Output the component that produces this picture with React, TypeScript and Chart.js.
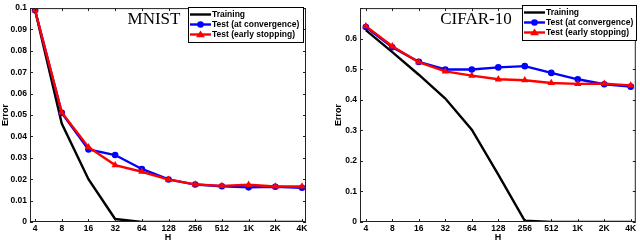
import React, { useEffect, useRef } from "react";
import { Chart, registerables } from "chart.js";

Chart.register(...registerables);

const hLabels = ["4", "8", "16", "32", "64", "128", "256", "512", "1K", "2K", "4K"];
const seriesNames = ["Training", "Test (at convergence)", "Test (early stopping)"];

const mnistTrain = [0.099, 0.046, 0.02, 0.0014, 0, 0, 0, 0, 0, 0, 0];
const mnistConv = [0.099, 0.051, 0.0339, 0.0313, 0.0248, 0.0199, 0.0175, 0.0167, 0.0162, 0.0165, 0.016];
const mnistEarly = [0.099, 0.0512, 0.035, 0.0266, 0.0235, 0.0198, 0.0176, 0.0169, 0.0174, 0.0166, 0.0166];
const mnistYTicks = [0, 0.01, 0.02, 0.03, 0.04, 0.05, 0.06, 0.07, 0.08, 0.09, 0.1];

const cifarTrain = [0.628, 0.556, 0.482, 0.404, 0.302, 0.155, 0.004, 0, 0, 0, 0];
const cifarConv = [0.638, 0.572, 0.524, 0.499, 0.499, 0.506, 0.51, 0.488, 0.467, 0.451, 0.443];
const cifarEarly = [0.641, 0.575, 0.523, 0.493, 0.479, 0.467, 0.464, 0.455, 0.452, 0.453, 0.447];
const cifarYTicks = [0, 0.1, 0.2, 0.3, 0.4, 0.5, 0.6, 0.7];

const COLORS = ["#000000", "#0000ff", "#ff0000"];
const TICK_FONT = { family: "Arial, 'Liberation Sans', sans-serif", size: 8.5, weight: "bold" as const };

function drawMarker(ctx: CanvasRenderingContext2D, kind: string, x: number, y: number, r: number, color: string) {
  ctx.save();
  ctx.fillStyle = color;
  ctx.beginPath();
  if (kind === "circle") {
    ctx.arc(x, y, r, 0, Math.PI * 2);
  } else if (kind === "triangle") {
    const h = r * 1.6;
    ctx.moveTo(x, y - h * 0.6);
    ctx.lineTo(x + r * 1.05, y + h * 0.4);
    ctx.lineTo(x - r * 1.05, y + h * 0.4);
    ctx.closePath();
  }
  ctx.fill();
  ctx.restore();
}

function makeConfig(opts: {
  title: string;
  titleX: number;
  train: number[];
  conv: number[];
  early: number[];
  yTicks: number[];
  yMax: number;
  hideTop: boolean;
  yWidth: number;
  yTitlePad: number;
  xMin: number;
  xMax: number;
  padTop: number;
  padRight: number;
  legendX: number;
  legendY: number;
  legendW: number;
  decimals: number;
}) {
  const series = [opts.train, opts.conv, opts.early];
  const markers = ["none", "circle", "triangle"];
  const radii = [0, 3.3, 4.2];
  const datasets = series.map((s, i) => ({
    label: seriesNames[i],
    data: s.map((v, j) => ({ x: j, y: v })),
    borderColor: COLORS[i],
    backgroundColor: COLORS[i],
    borderWidth: 2.4,
    pointStyle: i === 2 ? "triangle" : "circle",
    pointRadius: radii[i],
    pointBorderWidth: 0,
    pointBackgroundColor: COLORS[i],
    order: 3 - i,
    tension: 0,
  }));

  const boxPlugin = {
    id: "boxTicks",
    afterDatasetsDraw(chart: any) {
      const { ctx, chartArea: a, scales } = chart;
      ctx.save();
      ctx.strokeStyle = "#222";
      ctx.lineWidth = 1;
      ctx.strokeRect(a.left + 0.5, a.top + 0.5, a.right - a.left - 1, a.bottom - a.top - 1);
      const tl = 3;
      ctx.beginPath();
      scales.x.ticks.forEach((t: any) => {
        const x = Math.round(scales.x.getPixelForValue(t.value)) + 0.5;
        ctx.moveTo(x, a.bottom);
        ctx.lineTo(x, a.bottom - tl);
        ctx.moveTo(x, a.top);
        ctx.lineTo(x, a.top + tl);
      });
      scales.y.ticks.forEach((t: any) => {
        const y = Math.round(scales.y.getPixelForValue(t.value)) + 0.5;
        ctx.moveTo(a.left, y);
        ctx.lineTo(a.left + tl, y);
        ctx.moveTo(a.right, y);
        ctx.lineTo(a.right - tl, y);
      });
      ctx.stroke();

      // title inside plot
      ctx.fillStyle = "#000";
      ctx.font = "17px 'Liberation Serif', 'Times New Roman', serif";
      ctx.textAlign = "center";
      ctx.textBaseline = "alphabetic";
      ctx.fillText(opts.title, opts.titleX, a.top + 16);

      // legend
      const lx = opts.legendX, ly = opts.legendY, lw = opts.legendW, lh = 35;
      ctx.fillStyle = "#fff";
      ctx.fillRect(lx, ly, lw, lh);
      ctx.strokeStyle = "#000";
      ctx.lineWidth = 1;
      ctx.strokeRect(lx + 0.5, ly + 0.5, lw, lh);
      ctx.font = "bold 8.5px Arial, 'Liberation Sans', sans-serif";
      ctx.textAlign = "left";
      ctx.textBaseline = "middle";
      seriesNames.forEach((name, i) => {
        const yy = ly + 7.5 + i * 10;
        ctx.strokeStyle = COLORS[i];
        ctx.lineWidth = 2.4;
        ctx.beginPath();
        ctx.moveTo(lx + 2, yy);
        ctx.lineTo(lx + 23, yy);
        ctx.stroke();
        if (markers[i] !== "none") drawMarker(ctx, markers[i], lx + 12.5, yy, radii[i], COLORS[i]);
        ctx.fillStyle = "#000";
        ctx.fillText(name, lx + 24, yy + 0.5);
      });
      ctx.restore();
    },
  };

  return {
    type: "line" as const,
    data: { datasets },
    plugins: [boxPlugin],
    options: {
      animation: false as const,
      responsive: false,
      maintainAspectRatio: false,
      layout: { padding: { top: opts.padTop, right: opts.padRight, left: 0, bottom: 0 } },
      plugins: { legend: { display: false }, tooltip: { enabled: false } },
      scales: {
        x: {
          type: "linear" as const,
          min: opts.xMin,
          max: opts.xMax,
          afterBuildTicks(scale: any) {
            scale.ticks = hLabels.map((_, i) => ({ value: i }));
          },
          afterFit(scale: any) {
            scale.height = 21;
          },
          grid: { display: false, drawTicks: false },
          border: { display: false },
          ticks: {
            color: "#000",
            font: TICK_FONT,
            padding: 2,
            maxRotation: 0,
            autoSkip: false,
            callback: (v: any) => hLabels[v] ?? "",
          },
          title: {
            display: true,
            text: "H",
            color: "#000",
            font: { ...TICK_FONT, size: 9 },
            padding: { top: -2, bottom: 0 },
          },
        },
        y: {
          type: "linear" as const,
          min: 0,
          max: opts.yMax,
          afterBuildTicks(scale: any) {
            scale.ticks = opts.yTicks.map((v) => ({ value: v }));
          },
          afterFit(scale: any) {
            scale.width = opts.yWidth;
          },
          grid: { display: false, drawTicks: false },
          border: { display: false },
          ticks: {
            color: "#000",
            font: TICK_FONT,
            padding: 3,
            autoSkip: false,
            callback: (v: any) => {
              if (opts.hideTop && Math.abs(v - opts.yMax) < 1e-9) return "";
              if (v === 0) return "0";
              return Number(v).toFixed(opts.decimals).replace(/0+$/, "").replace(/\.$/, "");
            },
          },
          title: {
            display: true,
            text: "Error",
            color: "#000",
            font: { ...TICK_FONT, size: 9 },
            padding: { top: opts.yTitlePad, bottom: 0 },
          },
        },
      },
    },
  };
}

function ChartBox(props: { config: any; left: number; width: number }) {
  const ref = useRef<HTMLCanvasElement>(null);
  useEffect(() => {
    if (!ref.current) return;
    const chart = new Chart(ref.current, props.config);
    return () => chart.destroy();
  }, []);
  return (
    <div style={{ position: "absolute", left: props.left, top: 0, width: props.width, height: 243 }}>
      <canvas ref={ref} width={props.width} height={243} style={{ width: props.width, height: 243, display: "block" }} />
    </div>
  );
}

export default function App() {
  const mnist = makeConfig({
    title: "MNIST",
    titleX: 154,
    train: mnistTrain,
    conv: mnistConv,
    early: mnistEarly,
    yTicks: mnistYTicks,
    yMax: 0.1,
    hideTop: false,
    yWidth: 30,
    yTitlePad: 0,
    xMin: -0.19,
    xMax: 10.15,
    padTop: 4,
    padRight: 14,
    legendX: 188,
    legendY: 7,
    legendW: 115,
    decimals: 2,
  });
  const cifar = makeConfig({
    title: "CIFAR-10",
    titleX: 156,
    train: cifarTrain,
    conv: cifarConv,
    early: cifarEarly,
    yTicks: cifarYTicks,
    yMax: 0.7,
    hideTop: true,
    yWidth: 40,
    yTitlePad: 13,
    xMin: -0.22,
    xMax: 10.19,
    padTop: 3,
    padRight: 1,
    legendX: 202,
    legendY: 5,
    legendW: 114,
    decimals: 1,
  });
  return (
    <div style={{ position: "absolute", left: 0, top: 0, width: 640, height: 243, background: "#fff" }}>
      <ChartBox config={mnist} left={0} width={320} />
      <ChartBox config={cifar} left={320} width={320} />
    </div>
  );
}
